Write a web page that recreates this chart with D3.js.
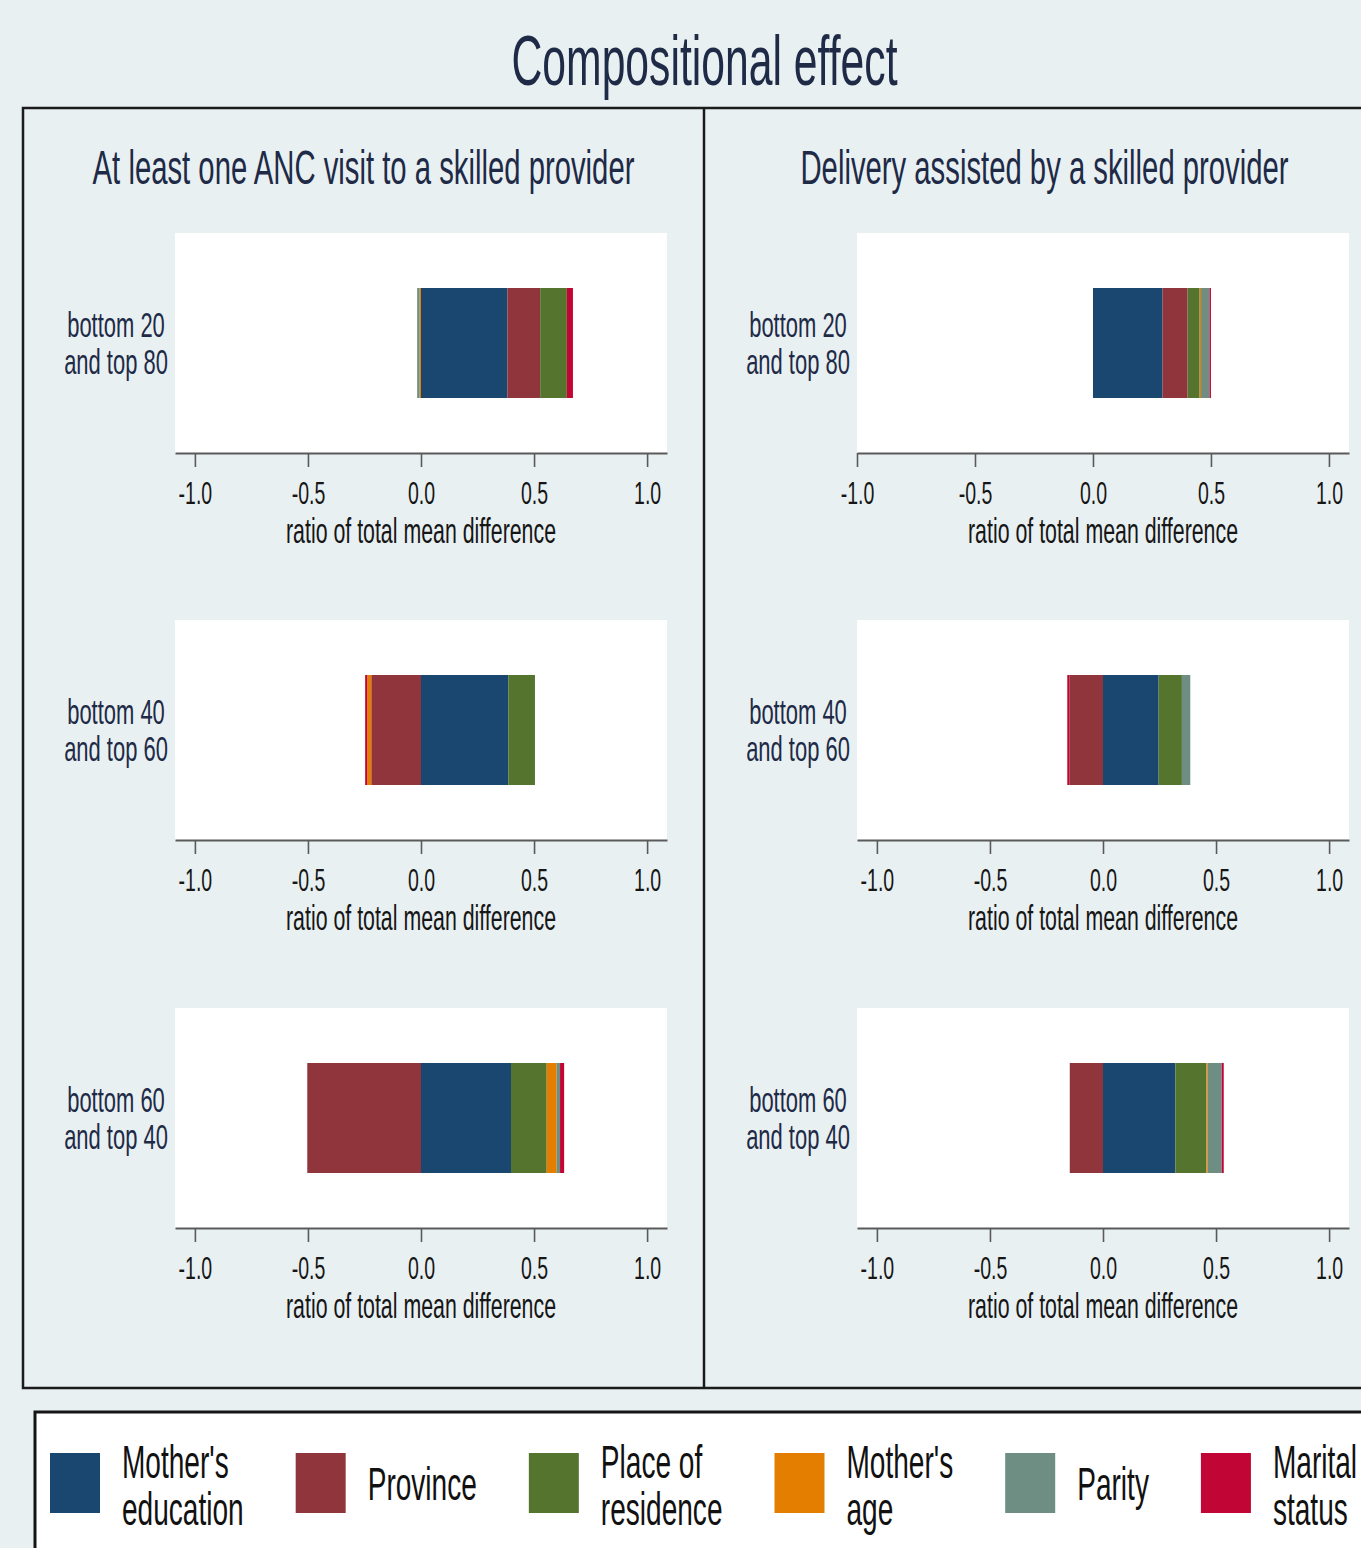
<!DOCTYPE html>
<html>
<head>
<meta charset="utf-8">
<script src="https://cdn.jsdelivr.net/npm/d3@7"></script>
<style>
  body { margin: 0; background: #e8f0f2; }
  svg { display: block; }
  text { font-family: "Liberation Sans", Arial, sans-serif; }
</style>
</head>
<body>
<svg id="chart"></svg>
<script>
// Decomposition components (stacking order) and their colours
const components = ["Mother's education", "Province", "Place of residence", "Mother's age", "Parity", "Marital status"];
const legendLines = [["Mother's", "education"], ["Province"], ["Place of", "residence"], ["Mother's", "age"], ["Parity"], ["Marital", "status"]];
const componentColors = ["#1a476f", "#90353b", "#55752f", "#e37e00", "#6e8e84", "#c10534"];

// Outcomes (columns) and wealth-group comparisons (rows)
const outcomes = ["At least one ANC visit to a skilled provider", "Delivery assisted by a skilled provider"];
const comparisons = [["bottom 20", "and top 80"], ["bottom 40", "and top 60"], ["bottom 60", "and top 40"]];
const tickValues = [-1, -0.5, 0, 0.5, 1];
const axisTitle = "ratio of total mean difference";

// Share of the total mean difference explained by each component
// (rows follow comparisons, columns follow components)
const ancShares = [
  [0.382, 0.145, 0.118, -0.007, -0.010, 0.027],
  [0.386, -0.220, 0.118, -0.018, 0.000, -0.009],
  [0.398, -0.503, 0.158, 0.044, 0.015, 0.018]
];
const deliveryShares = [
  [0.295, 0.106, 0.051, 0.006, 0.036, 0.006],
  [0.246, -0.149, 0.103, 0.000, 0.037, -0.009],
  [0.320, -0.147, 0.137, 0.006, 0.062, 0.009]
];

// ---- layout ----
const W = 1361, H = 1548;
const SX = 0.61;                 // horizontal squeeze applied to all text
const plotW = 492, plotH = 220;
const colX = [175, 857];
const rowY = [233, 620, 1008];
const ylabelX = [116, 798];
const titleX = [363.5, 1044.5];
const xDomains = [
  [[-1.088, 1.088], [-1.088, 1.088], [-1.088, 1.088]],
  [[-1.0, 1.085], [-1.088, 1.088], [-1.088, 1.088]]
];
const ink = "#1e2a46";

const svg = d3.select("#chart").attr("width", W).attr("height", H);
svg.append("rect").attr("width", W).attr("height", H).attr("fill", "#e8f0f2");

function label(parent, x, y, str, size, anchor, fill) {
  return parent.append("text")
    .attr("transform", `translate(${x},${y}) scale(${SX},1)`)
    .attr("text-anchor", anchor)
    .attr("font-size", size)
    .attr("fill", fill)
    .text(str);
}

// Main title
label(svg, 704.5, 85, "Compositional effect", 70, "middle", ink);

// Outer frame with column divider
svg.append("rect").attr("x", 23).attr("y", 108).attr("width", 1420).attr("height", 1280)
  .attr("fill", "none").attr("stroke", "#1b1b1b").attr("stroke-width", 2.5);
svg.append("line").attr("x1", 704).attr("x2", 704).attr("y1", 108).attr("y2", 1388)
  .attr("stroke", "#1b1b1b").attr("stroke-width", 2.5);

const color = d3.scaleOrdinal().domain(components).range(componentColors);
const stack = d3.stack().keys(components).offset(d3.stackOffsetDiverging);
const shareSets = [ancShares, deliveryShares];

outcomes.forEach((outcome, c) => {
  label(svg, titleX[c], 184, outcome, 48, "middle", ink);

  comparisons.forEach((comp, r) => {
    const g = svg.append("g").attr("transform", `translate(${colX[c]},${rowY[r]})`);
    const key = comp.join(" ");
    const row = { key };
    components.forEach((k, i) => { row[k] = shareSets[c][r][i]; });

    const x = d3.scaleLinear().domain(xDomains[c][r]).range([0, plotW]);
    const y = d3.scaleBand().domain([key]).range([0, plotH]).paddingInner(0.5).paddingOuter(0.25);

    g.append("rect").attr("width", plotW).attr("height", plotH).attr("fill", "#ffffff");

    const series = stack([row]);
    g.selectAll("rect.seg").data(series).join("rect")
      .attr("class", "seg")
      .attr("x", s => x(Math.min(s[0][0], s[0][1])))
      .attr("width", s => Math.abs(x(s[0][1]) - x(s[0][0])))
      .attr("y", y(key))
      .attr("height", y.bandwidth())
      .attr("fill", s => color(s.key));

    // category label (two lines, centred on the bar)
    const cy = y(key) + y.bandwidth() / 2;
    label(svg, ylabelX[c], rowY[r] + cy - 6.5, comp[0], 36, "middle", ink);
    label(svg, ylabelX[c], rowY[r] + cy + 31, comp[1], 36, "middle", ink);

    // x axis
    const ax = g.append("g").attr("transform", `translate(0,${plotH})`)
      .call(d3.axisBottom(x).tickValues(tickValues).tickSize(14).tickSizeOuter(0)
        .tickFormat(d => d.toFixed(1)));
    ax.select(".domain").attr("stroke", "#5a5a5a").attr("stroke-width", 2.2);
    ax.selectAll(".tick line").attr("stroke", "#5a5a5a").attr("stroke-width", 1.6);
    ax.selectAll(".tick text")
      .attr("y", 51).attr("dy", null)
      .attr("font-size", 32)
      .attr("fill", "#161616")
      .attr("font-family", "'Liberation Sans', Arial, sans-serif")
      .attr("transform", `scale(${SX},1)`);

    label(g, plotW / 2, plotH + 90, axisTitle, 35, "middle", "#161616");
  });
});

// Legend
const legend = svg.append("g");
legend.append("rect").attr("x", 35).attr("y", 1412).attr("width", 1420).attr("height", 200)
  .attr("fill", "#ffffff").attr("stroke", "#151515").attr("stroke-width", 3);

let lx = 50;
components.forEach((k, i) => {
  legend.append("rect").attr("x", lx).attr("y", 1453).attr("width", 50).attr("height", 60)
    .attr("fill", color(k));
  const lines = legendLines[i];
  const tx = lx + 72;
  let maxW = 0;
  lines.forEach((ln, j) => {
    const yy = lines.length === 1 ? 1500 : (j === 0 ? 1478 : 1525);
    const t = label(legend, tx, yy, ln, 46, "start", "#111111");
    maxW = Math.max(maxW, t.node().getBoundingClientRect().width);
  });
  lx = tx + maxW + 52;
});
</script>
</body>
</html>
